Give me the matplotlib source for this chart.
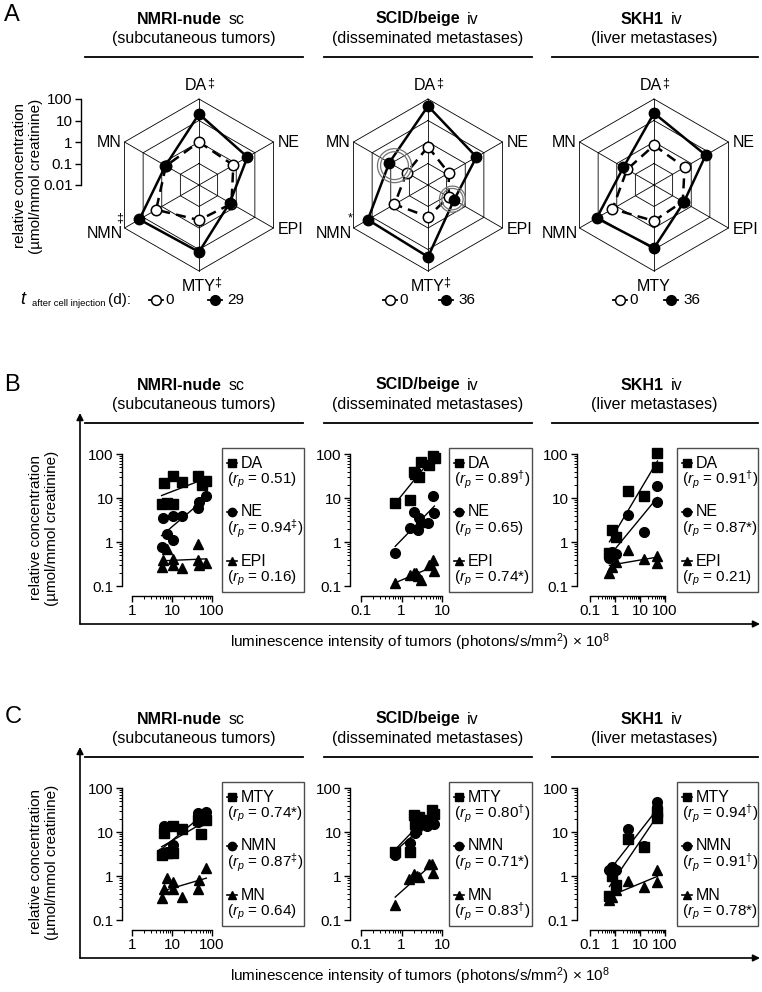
import numpy as np
import matplotlib
matplotlib.use("Agg")
import matplotlib.pyplot as plt
from matplotlib.patches import Circle, Rectangle
from matplotlib.ticker import LogLocator, FuncFormatter, NullFormatter

plt.rcParams["font.family"] = ["Liberation Sans", "DejaVu Sans"]
plt.rcParams["mathtext.fontset"] = "custom"
plt.rcParams["mathtext.rm"] = "Liberation Sans"
plt.rcParams["mathtext.it"] = "Liberation Sans:italic"
plt.rcParams["mathtext.bf"] = "Liberation Sans:bold"

W, H = 762, 992

# ---------------- data ----------------
# panel A: radar, spokes clockwise from top
spokes = ["DA", "NE", "EPI", "MTY", "NMN", "MN"]
nmri_d0 = [1.0, 0.7, 0.55, 0.43, 2.0, 0.6]
nmri_d29 = [20, 4.0, 0.45, 13, 16, 0.63]
scid_d0 = [0.6, 0.13, 0.13, 0.3, 0.63, 0.14]
scid_d36 = [47, 4.0, 0.25, 22, 17, 1.2]
skh1_d0 = [0.7, 0.44, 0.35, 0.47, 1.7, 0.28]
skh1_d36 = [22, 6.0, 0.4, 8.5, 12, 0.44]
nmri_marks = ["\u2021", "", "", "\u2021", "\u2021", ""]
scid_marks = ["\u2021", "", "", "\u2021", "*", ""]
skh1_marks = ["\u2021", "", "", "", "", ""]

# panel B: catecholamines vs luminescence
b_nmri_da_x = [5.5, 6.2, 7.5, 10.3, 10.3, 18, 45, 55, 72]
b_nmri_da_y = [7.3, 22, 7.7, 32, 7.3, 23, 32, 20, 24]
b_nmri_ne_x = [5.5, 5.8, 7.7, 10.3, 10.3, 18, 45, 48, 72]
b_nmri_ne_y = [0.77, 3.5, 1.5, 3.9, 1.1, 3.9, 5.9, 8.1, 11]
b_nmri_epi_x = [5.5, 6.0, 7.3, 10.3, 10.3, 18, 45, 45, 48, 72]
b_nmri_epi_y = [0.27, 0.38, 0.7, 0.42, 0.3, 0.26, 0.9, 0.4, 0.3, 0.33]

b_scid_da_x = [0.7, 1.6, 2.0, 2.2, 2.7, 3.0, 4.8, 6.0, 6.7]
b_scid_da_y = [7.7, 9, 39, 35, 30, 66, 56, 90, 80]
b_scid_ne_x = [0.7, 1.6, 2.0, 2.5, 2.7, 3.1, 4.6, 6.0, 6.5]
b_scid_ne_y = [0.56, 2.1, 4.8, 1.9, 3.5, 2.7, 2.7, 11, 4.6]
b_scid_epi_x = [0.7, 1.6, 2.0, 2.3, 2.5, 3.1, 4.8, 6.0, 6.5]
b_scid_epi_y = [0.12, 0.18, 0.2, 0.2, 0.17, 0.14, 0.3, 0.39, 0.22]

b_skh1_da_x = [0.6, 0.75, 1.1, 3.2, 15, 48, 50]
b_skh1_da_y = [0.56, 1.9, 1.3, 14.5, 11, 105, 50]
b_skh1_ne_x = [0.6, 0.75, 1.1, 3.2, 15, 48, 50]
b_skh1_ne_y = [0.43, 0.6, 0.53, 4.1, 1.7, 18.6, 8.1]
b_skh1_epi_x = [0.6, 0.75, 1.1, 3.2, 15, 48, 50]
b_skh1_epi_y = [0.2, 0.27, 0.35, 0.66, 0.41, 0.48, 0.33]

# panel C: metanephrines vs luminescence
c_nmri_mty_x = [5.5, 6.2, 7.3, 10.3, 10.3, 18, 45, 53, 72]
c_nmri_mty_y = [3.0, 9.3, 3.3, 14, 3.4, 11.5, 19, 9.0, 19]
c_nmri_nmn_x = [5.5, 6.2, 7.7, 10.3, 10.3, 18, 45, 45, 72]
c_nmri_nmn_y = [3.3, 14, 3.6, 5.0, 3.6, 12, 17, 27, 29]
c_nmri_mn_x = [5.5, 6.2, 7.7, 10.3, 10.3, 18, 45, 48, 72]
c_nmri_mn_y = [0.31, 0.5, 0.9, 0.73, 0.5, 0.33, 0.5, 0.8, 1.5]

c_scid_mty_x = [0.7, 1.6, 2.0, 2.1, 2.3, 2.7, 4.5, 5.6, 6.2]
c_scid_mty_y = [3.6, 3.6, 24, 15.6, 12, 22, 19, 31, 25]
c_scid_nmn_x = [0.7, 1.6, 2.2, 2.4, 2.7, 4.2, 5.6, 6.2]
c_scid_nmn_y = [3.0, 5.7, 9.7, 19, 13.5, 13.5, 20, 15.5]
c_scid_mn_x = [0.7, 1.5, 2.0, 2.4, 2.7, 4.7, 5.6, 6.0]
c_scid_mn_y = [0.22, 0.85, 1.1, 1.0, 0.95, 1.9, 1.9, 1.2]

c_skh1_mty_x = [0.6, 0.75, 1.1, 3.2, 15, 48, 50]
c_skh1_mty_y = [0.36, 1.0, 0.62, 6.8, 4.6, 28, 21]
c_skh1_nmn_x = [0.6, 0.75, 1.1, 3.2, 15, 48, 50]
c_skh1_nmn_y = [1.35, 1.6, 1.4, 12, 4.8, 47, 37]
c_skh1_mn_x = [0.6, 0.75, 1.1, 3.2, 15, 48, 50]
c_skh1_mn_y = [0.28, 0.33, 0.47, 0.77, 0.55, 1.4, 0.72]

b_names = ["DA", "NE", "EPI"]
c_names = ["MTY", "NMN", "MN"]
b_nmri_r = ["0.51", "0.94$^{\\ddag}$", "0.16"]
b_scid_r = ["0.89$^{\\dag}$", "0.65", "0.74*"]
b_skh1_r = ["0.91$^{\\dag}$", "0.87*", "0.21"]
c_nmri_r = ["0.74*", "0.87$^{\\ddag}$", "0.64"]
c_scid_r = ["0.80$^{\\dag}$", "0.71*", "0.83$^{\\dag}$"]
c_skh1_r = ["0.94$^{\\dag}$", "0.91$^{\\dag}$", "0.78*"]

# ---------------- figure ----------------
fig = plt.figure(figsize=(W / 100, H / 100), dpi=100)


def px_axes(x0, y0, x1, y1):
    return fig.add_axes([x0 / W, 1 - y1 / H, (x1 - x0) / W, (y1 - y0) / H])


ov = px_axes(0, 0, W, H)
ov.set_xlim(0, W)
ov.set_ylim(H, 0)
ov.axis("off")

FS = 11.5


def header(y, bold_end, bold, rest, sub, sub_cx, lx0, lx1):
    ov.text(bold_end, y, bold, ha="right", va="center", weight="bold", size=FS)
    ov.text(bold_end + 7, y, rest, ha="left", va="center", size=FS)
    ov.text(sub_cx, y + 19, sub, ha="center", va="center", size=FS)
    ov.plot([lx0, lx1], [y + 38, y + 38], color="k", lw=1.3)


for y0 in [19, 385, 719]:
    header(y0, 222, "NMRI-nude", "sc", "(subcutaneous tumors)", 194, 85, 303)
    header(y0, 460, "SCID/beige", "iv", "(disseminated metastases)", 428, 324, 532)
    header(y0, 664, "SKH1", "iv", "(liver metastases)", 654, 552, 758)

ov.text(12, 15, "A", size=17, ha="center", va="center")
ov.text(12, 385, "B", size=17, ha="center", va="center")
ov.text(13, 717, "C", size=17, ha="center", va="center")

ylab = "relative concentration\n(\u00b5mol/mmol creatinine)"

# ---------------- panel A ----------------
ang = np.deg2rad([90, 30, -30, -90, -150, 150])
PXU = 21.5  # px per decade


def radar(cx, d0, d1, marks, cy=185):
    half = 115
    ax = px_axes(cx - half, cy - half, cx + half, cy + half)
    lim = half / PXU
    ax.set_xlim(-lim, lim)
    ax.set_ylim(-lim, lim)
    ax.axis("off")
    ca = np.append(ang, ang[0])
    for ring in [1, 2, 3, 4]:
        ax.plot(ring * np.cos(ca), ring * np.sin(ca), color="k", lw=0.6)
    for a in ang:
        ax.plot([0, 4 * np.cos(a)], [0, 4 * np.sin(a)], color="k", lw=0.6)
    r0 = np.log10(d0) + 2
    r1 = np.log10(d1) + 2
    x0, y0 = r0 * np.cos(ang), r0 * np.sin(ang)
    x1, y1 = r1 * np.cos(ang), r1 * np.sin(ang)
    ax.plot(np.append(x0, x0[0]), np.append(y0, y0[0]), color="k", lw=1.8,
            dashes=(4, 2.5), zorder=3)
    ax.plot(np.append(x1, x1[0]), np.append(y1, y1[0]), color="k", lw=1.8, zorder=4)
    ax.plot(x0, y0, "o", mfc="white", mec="k", ms=7.5, mew=1.1, zorder=5)
    ax.plot(x1, y1, "o", mfc="k", mec="k", ms=7.5, zorder=6)
    lab_off = [(-3, 6, "center", "bottom"), (4, 0, "left", "center"),
               (4, -1, "left", "center"), (0, -8, "center", "top"),
               (-2, -5, "right", "center"), (-3, 0, "right", "center")]
    mark_off = [(8, 16, "left"), (0, 0, "left"), (0, 0, "left"),
                (15, -11, "left"), (-1, 10, "right"), (0, 0, "left")]
    for i, name in enumerate(spokes):
        vx, vy = 4 * np.cos(ang[i]), 4 * np.sin(ang[i])
        dx, dy, ha, va = lab_off[i]
        ax.annotate(name, (vx, vy), xytext=(dx, dy), textcoords="offset pixels",
                    ha=ha, va=va, size=FS)
        if marks[i]:
            mx, my, mha = mark_off[i]
            ax.annotate(marks[i], (vx, vy), xytext=(mx, my), textcoords="offset pixels",
                        ha=mha, va="center", size=9)
    return ax, (x0, y0), (x1, y1)


radar(199, nmri_d0, nmri_d29, nmri_marks)
ax_s, p0, p1 = radar(428, scid_d0, scid_d36, scid_marks)
# grey rings highlighting overlapping MN and EPI values
for idx, rad in [(5, 17 / PXU), (2, 13 / PXU)]:
    ccx = 0.7 * p1[0][idx] + 0.3 * p0[0][idx]
    ccy = 0.7 * p1[1][idx] + 0.3 * p0[1][idx]
    for rr in [rad, rad * 0.82]:
        ax_s.add_patch(Circle((ccx, ccy), rr, fill=False, ec="0.45", lw=0.9, zorder=7))
radar(654, skh1_d0, skh1_d36, skh1_marks)

# radial scale of panel A
axr = px_axes(81, 185 - 4 * PXU, 82, 185)
axr.set_yscale("log")
axr.set_ylim(0.01, 100)
axr.set_yticks([0.01, 0.1, 1, 10, 100])
axr.yaxis.set_major_formatter(FuncFormatter(lambda v, _: f"{v:g}"))
axr.yaxis.set_minor_locator(LogLocator(base=10, subs=[]))
axr.set_xticks([])
for s in ["top", "bottom", "right"]:
    axr.spines[s].set_visible(False)
axr.spines["left"].set_linewidth(1)
axr.patch.set_visible(False)
axr.tick_params(axis="y", direction="out", length=4, width=1, labelsize=11, pad=2)

ov.text(28, 176, ylab, rotation=90, ha="center", va="center", size=11)

# legend row for A
ov.text(20, 300, "t", style="italic", size=13, va="center", ha="left")
ov.text(32, 304, "after cell injection", size=6.8, va="center", ha="left")
ov.text(108, 300, "(d):", size=11, va="center", ha="left")
for xo, xf, lab in [(156, 215, "29"), (390, 446, "36"), (620, 671, "36")]:
    ov.plot([xo - 7, xo + 7], [300, 300], color="k", lw=1.3)
    ov.plot(xo, 300, "o", mfc="white", mec="k", ms=7, mew=1.1)
    ov.text(xo + 9, 300, "0", size=11, va="center", ha="left")
    ov.plot([xf - 7, xf + 7], [300, 300], color="k", lw=1.3)
    ov.plot(xf, 300, "o", mfc="k", mec="k", ms=7)
    ov.text(xf + 12, 300, lab, size=11, va="center", ha="left")

# ---------------- panels B and C ----------------
fmt = FuncFormatter(lambda v, _: f"{v:g}")


def scatter_panel(x0, x1, ytop, xlim, left_off, series):
    ax = px_axes(x0, ytop, x1, ytop + 132)
    ax.set_xscale("log")
    ax.set_yscale("log")
    ax.set_xlim(*xlim)
    ax.set_ylim(0.1, 100)
    ax.patch.set_visible(False)
    for s in ["top", "right"]:
        ax.spines[s].set_visible(False)
    ax.spines["left"].set_position(("outward", left_off * 0.72))
    ax.spines["bottom"].set_position(("outward", 10 * 0.72))
    for s in ["left", "bottom"]:
        ax.spines[s].set_linewidth(1)
    for a in [ax.xaxis, ax.yaxis]:
        a.set_major_locator(LogLocator(base=10, numticks=10))
        a.set_minor_locator(LogLocator(base=10, subs=np.arange(2, 10), numticks=10))
        a.set_major_formatter(fmt)
        a.set_minor_formatter(NullFormatter())
    ax.tick_params(which="major", length=4, width=1, labelsize=11, pad=2)
    ax.tick_params(which="minor", length=2, width=0.7)
    for xs, ys, mk, ms in series:
        xs = np.array(xs, float)
        ys = np.array(ys, float)
        ax.plot(xs, ys, mk, color="k", ms=ms, zorder=3, clip_on=False)
        k, b = np.polyfit(np.log10(xs), np.log10(ys), 1)
        xx = np.array([xs.min(), xs.max()])
        ax.plot(xx, 10 ** (k * np.log10(xx) + b), color="k", lw=1, zorder=2)
    return ax


def legend_box(x0, x1, ytop, names, rvals, marks):
    ov.add_patch(Rectangle((x0, ytop), x1 - x0, 144, fill=False, ec="0.3", lw=1))
    for i in range(3):
        yn = ytop + 15 + 49 * i
        ov.plot([x0 + 5, x0 + 15], [yn, yn], color="k", lw=1.2)
        ov.plot(x0 + 10, yn, marks[i][0], color="k", ms=marks[i][1] - 1)
        ov.text(x0 + 19, yn, names[i], size=11.5, va="center", ha="left")
        ov.text(x0 + 5, yn + 17, "($r_p$ = " + rvals[i] + ")", size=11,
                va="center", ha="left")


mk3 = [("s", 6.5), ("o", 7), ("^", 7)]

for ytop, d in [(454, "B"), (788, "C")]:
    if d == "B":
        sets = [
            (b_nmri_da_x, b_nmri_da_y, b_nmri_ne_x, b_nmri_ne_y, b_nmri_epi_x, b_nmri_epi_y),
            (b_scid_da_x, b_scid_da_y, b_scid_ne_x, b_scid_ne_y, b_scid_epi_x, b_scid_epi_y),
            (b_skh1_da_x, b_skh1_da_y, b_skh1_ne_x, b_skh1_ne_y, b_skh1_epi_x, b_skh1_epi_y),
        ]
        names, rs = b_names, [b_nmri_r, b_scid_r, b_skh1_r]
    else:
        sets = [
            (c_nmri_mty_x, c_nmri_mty_y, c_nmri_nmn_x, c_nmri_nmn_y, c_nmri_mn_x, c_nmri_mn_y),
            (c_scid_mty_x, c_scid_mty_y, c_scid_nmn_x, c_scid_nmn_y, c_scid_mn_x, c_scid_mn_y),
            (c_skh1_mty_x, c_skh1_mty_y, c_skh1_nmn_x, c_skh1_nmn_y, c_skh1_mn_x, c_skh1_mn_y),
        ]
        names, rs = c_names, [c_nmri_r, c_scid_r, c_skh1_r]
    geo = [(132, 212, (1, 100), 10, 222, 304),
           (361, 442, (0.1, 10), 11, 449, 532),
           (590, 665, (0.1, 100), 13, 677, 758)]
    for (ax0, ax1, xl, lo, lx0, lx1), s, r in zip(geo, sets, rs):
        series = [(s[0], s[1], "s", 6.5), (s[2], s[3], "o", 7), (s[4], s[5], "^", 7)]
        scatter_panel(ax0, ax1, ytop, xl, lo, series)
        legend_box(lx0, lx1, ytop - 6, names, r, mk3)

    ybase = ytop + 170
    arw = dict(arrowstyle="-|>", color="k", lw=1.2, mutation_scale=10,
               shrinkA=0, shrinkB=0)
    ov.annotate("", xy=(80, ytop - 41), xytext=(80, ybase), arrowprops=arw)
    ov.annotate("", xy=(760, ybase), xytext=(80, ybase), arrowprops=arw)
    ov.text(420, ybase + 18,
            "luminescence intensity of tumors (photons/s/mm$^2$) \u00d7 10$^8$",
            size=11, ha="center", va="center")
    ov.text(44, ytop + 74, ylab, rotation=90, ha="center", va="center", size=11)

fig.savefig("out.png", dpi=100)
